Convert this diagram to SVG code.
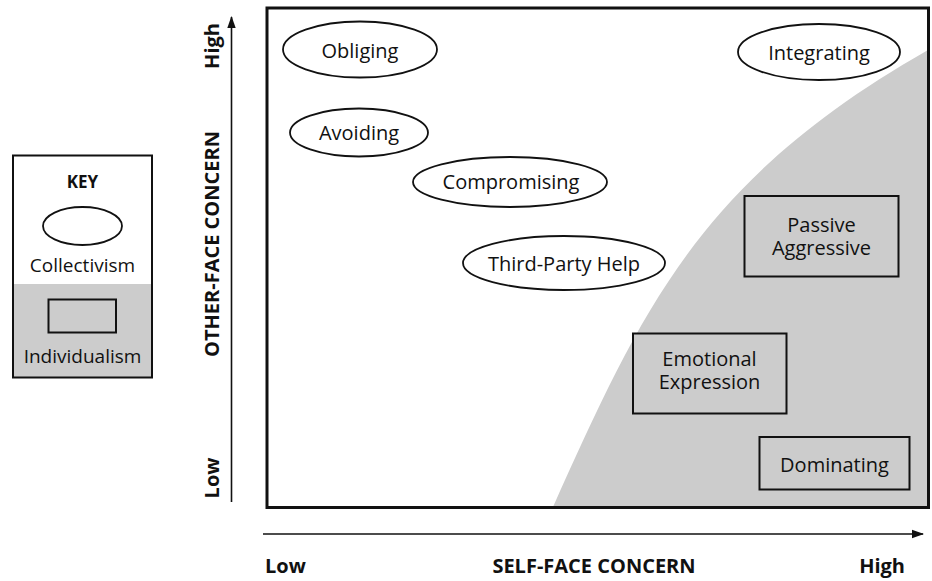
<svg xmlns="http://www.w3.org/2000/svg" width="932" height="581" viewBox="0 0 932 581">
<style>
text{font-family:"Open Sans","Noto Sans","DejaVu Sans",sans-serif;fill:#111;}
.t{font-size:20px;text-anchor:middle;}
.k{font-size:19px;text-anchor:middle;}
.b{font-size:20px;font-weight:bold;}
.ell{fill:#fff;stroke:#111;stroke-width:1.8;}
.box{fill:#cccccc;stroke:#111;stroke-width:2;}
.ax{stroke:#111;stroke-width:1.6;fill:none;}
</style>
<defs>
<marker id="arr" viewBox="0 0 12 10" refX="11" refY="5" markerWidth="12" markerHeight="10" markerUnits="userSpaceOnUse" orient="auto">
<path d="M0,0.8 L12,5 L0,9.2 Z" fill="#111"/>
</marker>
</defs>
<rect width="932" height="581" fill="#fff"/>

<g id="key">
<rect x="13" y="155.5" width="139" height="222" fill="#fff"/>
<rect x="13" y="284" width="139" height="93.5" fill="#cccccc"/>
<rect x="13" y="155.5" width="139" height="222" fill="none" stroke="#111" stroke-width="2"/>
<text x="82.5" y="188" class="b" style="font-size:17px" text-anchor="middle">KEY</text>
<ellipse cx="82.5" cy="226" rx="39.5" ry="19" class="ell"/>
<text x="82.5" y="272" class="k">Collectivism</text>
<rect x="48.5" y="299.5" width="67.5" height="33" fill="#cccccc" stroke="#111" stroke-width="2"/>
<text x="82.5" y="363" class="k">Individualism</text>
</g>

<g id="plot">
<path d="M553,507 C643,307 700,180 928,50 L928,507 Z" fill="#cccccc"/>
<rect x="267" y="8" width="661.5" height="499.5" fill="none" stroke="#111" stroke-width="3"/>
</g>

<g id="connectors">
<line x1="231.5" y1="502" x2="231.5" y2="17" class="ax" marker-end="url(#arr)"/>
<line x1="263" y1="534" x2="923" y2="534" class="ax" marker-end="url(#arr)"/>
</g>

<g id="axis-labels">
<text class="b" transform="translate(219,46) rotate(-90)" text-anchor="middle">High</text>
<text class="b" transform="translate(219,244) rotate(-90)" text-anchor="middle">OTHER-FACE CONCERN</text>
<text class="b" transform="translate(219,478) rotate(-90)" text-anchor="middle">Low</text>
<text class="b" x="265" y="573">Low</text>
<text class="b" x="594" y="573" text-anchor="middle">SELF-FACE CONCERN</text>
<text class="b" x="905" y="573" text-anchor="end">High</text>
</g>

<g id="obliging">
<ellipse cx="360" cy="49.5" rx="77" ry="28" class="ell"/>
<text x="360" y="58" class="t">Obliging</text>
</g>
<g id="avoiding">
<ellipse cx="359" cy="132.5" rx="69" ry="24" class="ell"/>
<text x="359" y="140" class="t">Avoiding</text>
</g>
<g id="integrating">
<ellipse cx="819" cy="52" rx="81" ry="28" class="ell"/>
<text x="819" y="60" class="t">Integrating</text>
</g>
<g id="compromising">
<ellipse cx="510" cy="182" rx="97" ry="25" class="ell"/>
<text x="511" y="189" class="t">Compromising</text>
</g>
<g id="third-party-help">
<ellipse cx="564" cy="263" rx="101" ry="27" class="ell"/>
<text x="564" y="271" class="t">Third-Party Help</text>
</g>
<g id="passive-aggressive">
<rect x="744.5" y="196" width="154" height="80.5" class="box"/>
<text x="821.5" y="232" class="t">Passive</text>
<text x="821.5" y="255" class="t">Aggressive</text>
</g>
<g id="emotional-expression">
<rect x="633" y="333.5" width="153.5" height="80" class="box"/>
<text x="709.5" y="366" class="t">Emotional</text>
<text x="709.5" y="389" class="t">Expression</text>
</g>
<g id="dominating">
<rect x="759.5" y="437" width="150" height="52.5" class="box"/>
<text x="834.5" y="472" class="t">Dominating</text>
</g>
</svg>
